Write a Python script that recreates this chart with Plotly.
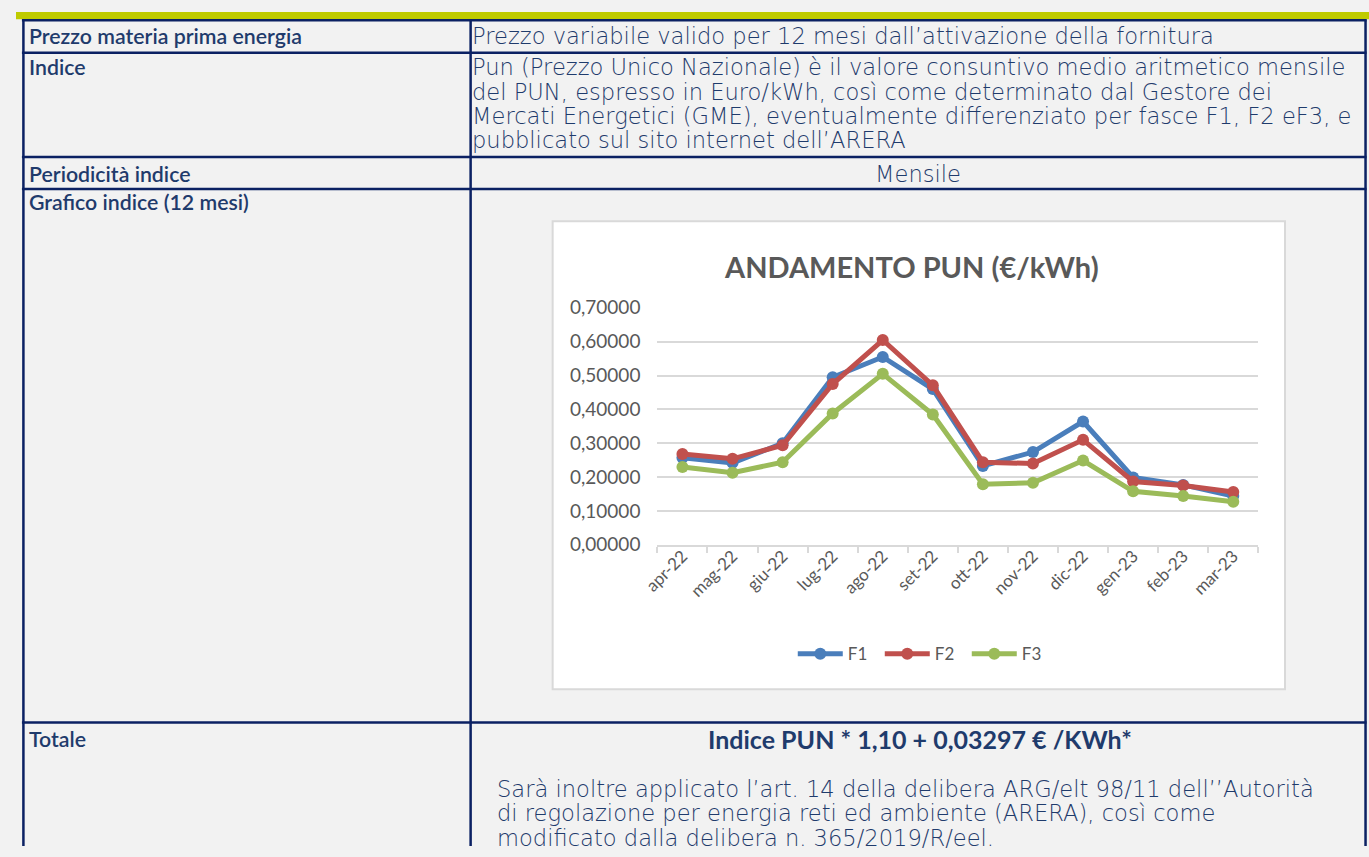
import plotly.graph_objects as go

W, H = 1369, 857

# ---------------- data ----------------
months = ["apr-22", "mag-22", "giu-22", "lug-22", "ago-22", "set-22",
          "ott-22", "nov-22", "dic-22", "gen-23", "feb-23", "mar-23"]
f1 = [0.257, 0.242, 0.300, 0.495, 0.555, 0.460, 0.233, 0.274, 0.364, 0.199, 0.177, 0.144]
f2 = [0.268, 0.254, 0.294, 0.475, 0.605, 0.471, 0.244, 0.240, 0.310, 0.187, 0.175, 0.156]
f3 = [0.230, 0.213, 0.244, 0.388, 0.505, 0.385, 0.179, 0.183, 0.249, 0.158, 0.144, 0.127]
series_names = ["F1", "F2", "F3"]
series_colors = ["#4A7EBB", "#C0504D", "#9BBB59"]
y_ticks = [0.0, 0.1, 0.2, 0.3, 0.4, 0.5, 0.6, 0.7]
chart_title = "ANDAMENTO PUN (€/kWh)"

labels = ["Prezzo materia prima energia", "Indice", "Periodicità indice",
          "Grafico indice (12 mesi)", "Totale"]
row1_text = "Prezzo variabile valido per 12 mesi dall’attivazione della fornitura"
indice_lines = [
    "Pun (Prezzo Unico Nazionale) è il valore consuntivo medio aritmetico mensile",
    "del PUN, espresso in Euro/kWh, così come determinato dal Gestore dei",
    "Mercati Energetici (GME), eventualmente differenziato per fasce F1, F2 eF3, e",
    "pubblicato sul sito internet dell’ARERA",
]
periodicita = "Mensile"
formula = "Indice PUN * 1,10 + 0,03297 € /KWh*"
nota_lines = [
    "Sarà inoltre applicato l’art. 14 della delibera ARG/elt 98/11 dell’’Autorità",
    "di regolazione per energia reti ed ambiente (ARERA), così come",
    "modificato dalla delibera n. 365/2019/R/eel.",
]

# ---------------- helpers ----------------
def px(x):
    return x / W

def py(y):
    return 1 - y / H

NAVY = "#0B2163"
TXT = "#1F3B6C"
LABEL_FONT = "Lato"
BODY_FONT = "DejaVu Sans"
CHART_FONT = "Lato"
GRAY = "#595959"
GRID = "#D9D9D9"

fig = go.Figure()
for name, vals, col in zip(series_names, [f1, f2, f3], series_colors):
    fig.add_trace(go.Scatter(
        x=months, y=vals, name=name, mode="lines+markers",
        line=dict(color=col, width=5),
        marker=dict(color=col, size=12),
        hoverinfo="skip",
    ))

shapes = []
shapes.append(dict(type="rect", xref="paper", yref="paper", x0=0, x1=1, y0=py(7.5), y1=1,
                   fillcolor="#BFCB00", line=dict(width=0), layer="below"))
shapes.append(dict(type="rect", xref="paper", yref="paper", x0=px(543), x1=px(1284),
                   y0=py(696), y1=py(215), fillcolor="white",
                   line=dict(color="#D9D9D9", width=2), layer="below"))
for yy in [8.5, 42, 149, 182, 730]:
    shapes.append(dict(type="line", xref="paper", yref="paper", x0=px(6), x1=px(1366.5),
                       y0=py(yy), y1=py(yy), line=dict(color=NAVY, width=2.5)))
for xx in [7.5, 460, 1365.5]:
    shapes.append(dict(type="line", xref="paper", yref="paper", x0=px(xx), x1=px(xx),
                       y0=0, y1=py(7.5), line=dict(color=NAVY, width=2.5)))

ann = []
def add_text(x, y, text, size=20, weight=400, xanchor="left", color=TXT, font=BODY_FONT):
    ann.append(dict(xref="paper", yref="paper", x=px(x), y=py(y), text=text, showarrow=False,
                    xanchor=xanchor, yanchor="middle", align="left",
                    font=dict(family=font, size=size, color=color, weight=weight)))

def add_lines(x, y0, lines, step, **kw):
    for i, ln in enumerate(lines):
        add_text(x, y0 + i * step, ln, **kw)

label_y = [25, 57, 166, 195, 747]
for lab, yy in zip(labels, label_y):
    add_text(11, yy, lab, size=21.3, weight=600, font=LABEL_FONT)

body = dict(size=22.6, weight=200, font=BODY_FONT)
add_text(459, 25, row1_text, **body)
add_lines(459, 57, indice_lines, 25, **body)
add_text(913, 166, periodicita, xanchor="center", **body)
add_text(915, 747, formula, size=25, weight=700, xanchor="center", font=LABEL_FONT)
add_lines(485, 798, nota_lines, 25.5, **body)

add_text(906, 262, chart_title, size=29, weight=700, xanchor="center",
         color=GRAY, font=CHART_FONT)

fig.update_layout(
    width=W, height=H, autosize=False,
    margin=dict(l=0, r=0, t=0, b=0, pad=0),
    paper_bgcolor="#F2F2F2",
    plot_bgcolor="white",
    separators=",.",
    shapes=shapes,
    annotations=ann,
    showlegend=True,
    legend=dict(orientation="h", x=px(918), y=py(660), xanchor="center", yanchor="middle",
                font=dict(family=CHART_FONT, size=17, color=GRAY),
                bgcolor="rgba(0,0,0,0)", itemwidth=45,
                entrywidth=27, entrywidthmode="pixels"),
    xaxis=dict(
        domain=[px(649), px(1257)], type="category", range=[-0.5, 11.5],
        showgrid=False, showline=True, linecolor=GRID, linewidth=1.5,
        ticks="outside", tickson="boundaries", ticklen=6, tickcolor=GRID, tickwidth=1.5,
        ticklabelstandoff=-7,
        tickangle=-45, tickfont=dict(family=CHART_FONT, size=17, color=GRAY),
        fixedrange=True,
    ),
    yaxis=dict(
        domain=[py(547.5), py(304)], range=[0, 0.7],
        tickvals=y_ticks, tickformat=".5f",
        showgrid=True, gridcolor=GRID, gridwidth=1.5, zeroline=False, showline=False,
        ticks="", ticklabelstandoff=16,
        tickfont=dict(family=CHART_FONT, size=19, color=GRAY),
        fixedrange=True,
    ),
)

css_js = (
    "}); (function(){var s=document.createElement('style');"
    "s.textContent='html,body{margin:0!important;padding:0!important;overflow:hidden!important;"
    "background:#F2F2F2!important}"
    ".plotly-graph-div{position:fixed!important;left:0!important;top:0!important}';"
    "document.head.appendChild(s);})(); (function(){"
)
fig.write_html(
    "out.html",
    config={"displayModeBar": False, "responsive": False},
    post_script=css_js,
)
